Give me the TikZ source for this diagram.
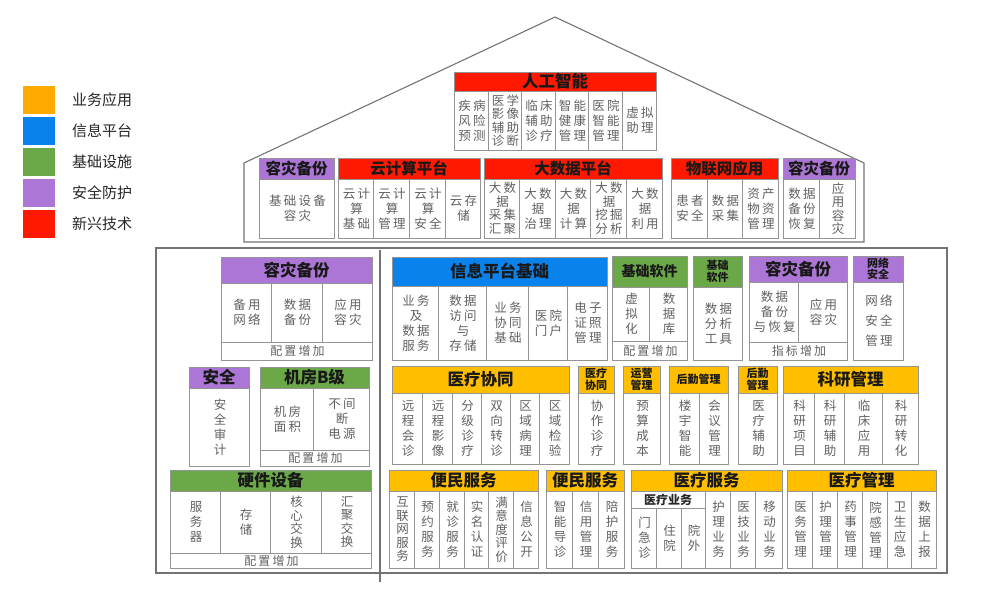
\documentclass[tikz,border=0pt]{standalone}
\usepackage{fontspec}
\setmainfont{Noto Sans CJK SC}
\newfontfamily\cf[LetterSpace=18]{Noto Sans CJK SC}
\definecolor{cRed}{RGB}{255,25,0}
\definecolor{cPur}{RGB}{172,118,214}
\definecolor{cGrn}{RGB}{106,168,72}
\definecolor{cBlu}{RGB}{10,130,235}
\definecolor{cOra}{RGB}{255,190,0}
\definecolor{lOra}{RGB}{255,170,0}
\tikzset{
  bl/.style={draw=black!42, line width=0.8pt},
  ol/.style={draw=black!55, line width=1.1pt},
  ct/.style={align=center, text=black!62, font=\cf\fontsize{12.5}{15}\selectfont, inner sep=0pt, xshift=1pt},
  tt/.style={font=\cf\fontsize{12.5}{13.5}\selectfont},
  ft/.style={align=center, text=black!62, font=\cf\fontsize{12}{12}\selectfont, inner sep=0pt},
  ht/.style={align=center, text=black!90, font=\bfseries\fontsize{15.5}{16}\selectfont, inner sep=0pt},
  hs/.style={font=\bfseries\fontsize{11}{11.5}\selectfont},
  hm/.style={font=\bfseries\fontsize{14}{14}\selectfont},
  hb/.style={font=\bfseries\fontsize{16.5}{17}\selectfont},
  lg/.style={anchor=west, text=black!85, font=\fontsize{15}{15}\selectfont, inner sep=0pt},
}
\newcommand\hd[7][]{\draw[bl,fill=#6] (#2,#3) rectangle (#4,#5); \node[ht,#1] at ({(#2+#4)/2},{(#3+#5)/2}) {#7};}
\newcommand\cl[6][]{\draw[bl] (#2,#3) rectangle (#4,#5); \node[ct,#1] at ({(#2+#4)/2},{(#3+#5)/2}) {#6};}
\begin{document}
\begin{tikzpicture}[x=1pt,y=-1pt]
\useasboundingbox (0,0) rectangle (986,591);
% legend
\fill[lOra] (23,86) rectangle (55,114); \node[lg] (l1) at (72,100) {业务应用};
\fill[cBlu] (23,117) rectangle (55,145); \node[lg] (l2) at (72,131) {信息平台};
\fill[cGrn] (23,148) rectangle (55,176); \node[lg] (l3) at (72,162) {基础设施};
\fill[cPur] (23,179) rectangle (55,207); \node[lg] (l4) at (72,193) {安全防护};
\fill[cRed] (23,210) rectangle (55,238); \node[lg] (l5) at (72,224) {新兴技术};
% outlines
\draw[ol] (244,242) -- (244,163) -- (555,17) -- (864,163) -- (864,242) -- cycle;
\draw[ol] (156,248) rectangle (947,573);
\draw[ol] (380,250) -- (380,582);
% AI
\hd[hb]{454}{72}{656}{91}{cRed}{人工智能}
\cl{454}{91}{488}{150}{疾病\\风险\\预测}
\cl[tt]{488}{91}{521}{150}{医学\\影像\\辅助\\诊断}
\cl{521}{91}{555}{150}{临床\\辅助\\诊疗}
\cl{555}{91}{588}{150}{智能\\健康\\管理}
\cl{588}{91}{622}{150}{医院\\智能\\管理}
\cl{622}{91}{656}{150}{虚拟\\助理}
% row 2
\hd{259}{158}{334}{179}{cPur}{容灾备份}
\cl{259}{179}{334}{238}{基础设备\\容灾}
\hd{338}{158}{480}{179}{cRed}{云计算平台}
\cl{338}{179}{373}{238}{云计\\算\\基础}
\cl{373}{179}{409}{238}{云计\\算\\管理}
\cl{409}{179}{445}{238}{云计\\算\\安全}
\cl{445}{179}{480}{238}{云存\\储}
\hd{484}{158}{662}{179}{cRed}{大数据平台}
\cl[tt]{484}{179}{519}{238}{大数\\据\\采集\\汇聚}
\cl{519}{179}{555}{238}{大数\\据\\治理}
\cl{555}{179}{590}{238}{大数\\据\\计算}
\cl[tt]{590}{179}{626}{238}{大数\\据\\挖掘\\分析}
\cl{626}{179}{662}{238}{大数\\据\\利用}
\hd{671}{158}{778}{179}{cRed}{物联网应用}
\cl{671}{179}{707}{238}{患者\\安全}
\cl{707}{179}{742}{238}{数据\\采集}
\cl{742}{179}{778}{238}{资产\\物资\\管理}
\hd{783}{158}{855}{179}{cPur}{容灾备份}
\cl{783}{179}{819}{238}{数据\\备份\\恢复}
\cl[tt]{819}{179}{855}{238}{应\\用\\容\\灾}
% lower left
\hd[hb]{221}{257}{372}{283}{cPur}{容灾备份}
\cl{221}{283}{271}{342}{备用\\网络}
\cl{271}{283}{322}{342}{数据\\备份}
\cl{322}{283}{372}{342}{应用\\容灾}
\cl[ft]{221}{342}{372}{360}{配置增加}
\hd[hb]{189}{367}{249}{388}{cPur}{安全}
\cl{189}{388}{249}{466}{安\\全\\审\\计}
\hd[hb]{260}{367}{369}{388}{cGrn}{机房B级}
\cl{260}{388}{313}{450}{机房\\面积}
\cl{313}{388}{369}{450}{不间\\断\\电源}
\cl[ft]{260}{450}{369}{466}{配置增加}
\hd[hb]{170}{470}{371}{491}{cGrn}{硬件设备}
\cl{170}{491}{220}{553}{服\\务\\器}
\cl{220}{491}{270}{553}{存\\储}
\cl[tt]{270}{491}{321}{553}{核\\心\\交\\换}
\cl[tt]{321}{491}{371}{553}{汇\\聚\\交\\换}
\cl[ft]{170}{553}{371}{568}{配置增加}
% info platform
\hd[hb]{392}{257}{607}{286}{cBlu}{信息平台基础}
\cl{392}{286}{438}{360}{业务\\及\\数据\\服务}
\cl{438}{286}{486}{360}{数据\\访问\\与\\存储}
\cl{486}{286}{528}{360}{业务\\协同\\基础}
\cl{528}{286}{567}{360}{医院\\门户}
\cl{567}{286}{607}{360}{电子\\证照\\管理}
\hd[hm]{612}{256}{687}{287}{cGrn}{基础软件}
\cl{612}{287}{649}{341}{虚\\拟\\化}
\cl{649}{287}{687}{341}{数\\据\\库}
\cl[ft]{612}{341}{687}{360}{配置增加}
\hd[hs]{693}{256}{742}{287}{cGrn}{基础\\软件}
\cl{693}{287}{742}{360}{数据\\分析\\工具}
\hd[hb]{749}{256}{847}{282}{cPur}{容灾备份}
\cl{749}{282}{798}{342}{数据\\备份\\与恢复}
\cl{798}{282}{847}{342}{应用\\容灾}
\cl[ft]{749}{342}{847}{360}{指标增加}
\hd[hs]{853}{256}{903}{282}{cPur}{网络\\安全}
\cl{853}{282}{903}{360}{网络\\[5pt]安全\\[5pt]管理}
% medical cooperation row
\hd[hb]{392}{366}{569}{393}{cOra}{医疗协同}
\cl{392}{393}{422}{464}{远\\程\\会\\诊}
\cl{422}{393}{452}{464}{远\\程\\影\\像}
\cl{452}{393}{481}{464}{分\\级\\诊\\疗}
\cl{481}{393}{510}{464}{双\\向\\转\\诊}
\cl{510}{393}{539}{464}{区\\域\\病\\理}
\cl{539}{393}{569}{464}{区\\域\\检\\验}
\hd[hs]{578}{366}{614}{393}{cOra}{医疗\\协同}
\cl{578}{393}{614}{464}{协\\作\\诊\\疗}
\hd[hs]{623}{366}{660}{393}{cOra}{运营\\管理}
\cl{623}{393}{660}{464}{预\\算\\成\\本}
\hd[hs]{669}{366}{728}{393}{cOra}{后勤管理}
\cl{669}{393}{699}{464}{楼\\宇\\智\\能}
\cl{699}{393}{728}{464}{会\\议\\管\\理}
\hd[hs]{738}{366}{777}{393}{cOra}{后勤\\管理}
\cl{738}{393}{777}{464}{医\\疗\\辅\\助}
\hd[hb]{783}{366}{918}{393}{cOra}{科研管理}
\cl{783}{393}{814}{464}{科\\研\\项\\目}
\cl{814}{393}{844}{464}{科\\研\\辅\\助}
\cl{844}{393}{882}{464}{临\\床\\应\\用}
\cl{882}{393}{918}{464}{科\\研\\转\\化}
% bottom row
\hd[hb]{389}{470}{538}{491}{cOra}{便民服务}
\cl[tt]{389}{491}{414}{568}{互\\联\\网\\服\\务}
\cl{414}{491}{439}{568}{预\\约\\服\\务}
\cl{439}{491}{464}{568}{就\\诊\\服\\务}
\cl{464}{491}{488}{568}{实\\名\\认\\证}
\cl[tt]{488}{491}{513}{568}{满\\意\\度\\评\\价}
\cl{513}{491}{538}{568}{信\\息\\公\\开}
\hd[hb]{546}{470}{624}{491}{cOra}{便民服务}
\cl{546}{491}{572}{568}{智\\能\\导\\诊}
\cl{572}{491}{598}{568}{信\\用\\管\\理}
\cl{598}{491}{624}{568}{陪\\护\\服\\务}
\hd[hb]{631}{470}{782}{491}{cOra}{医疗服务}
\cl[font=\bfseries\fontsize{12}{12}\selectfont, text=black!85, xshift=-1pt]{631}{491}{705}{508}{医疗业务}
\cl{631}{508}{656}{568}{门\\急\\诊}
\cl{656}{508}{681}{568}{住\\院}
\cl{681}{508}{705}{568}{院\\外}
\cl{705}{491}{730}{568}{护\\理\\业\\务}
\cl{730}{491}{755}{568}{医\\技\\业\\务}
\cl{755}{491}{782}{568}{移\\动\\业\\务}
\hd[hb]{787}{470}{936}{491}{cOra}{医疗管理}
\cl{787}{491}{812}{568}{医\\务\\管\\理}
\cl{812}{491}{837}{568}{护\\理\\管\\理}
\cl{837}{491}{862}{568}{药\\事\\管\\理}
\cl{862}{491}{887}{568}{院\\感\\管\\理}
\cl{887}{491}{911}{568}{卫\\生\\应\\急}
\cl{911}{491}{936}{568}{数\\据\\上\\报}
\end{tikzpicture}
\end{document}
